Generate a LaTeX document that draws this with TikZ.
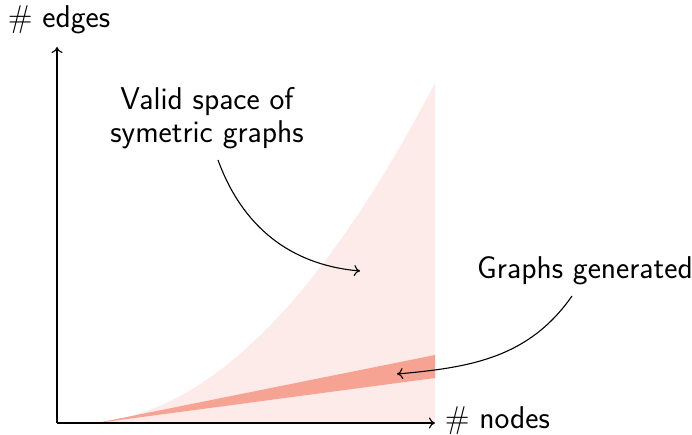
\documentclass[tikz,border=0pt]{standalone}
\usetikzlibrary{arrows.meta}
\definecolor{spacefill}{RGB}{252,235,232}
\definecolor{genfill}{RGB}{246,163,148}
\tikzset{
  axis/.style={line width=1.1pt, -{To[length=6pt,width=11pt]}},
  pointer/.style={line width=1.1pt, -{To[length=6pt,width=11pt]}},
  lbl/.style={font=\fontsize{31.5}{33}\selectfont\sffamily, inner sep=0pt},
}
\begin{document}
\begin{tikzpicture}[x=1pt,y=1pt]
\useasboundingbox (0,0) rectangle (692,435);
% region of valid symmetric graphs
\fill[spacefill] (97,12) -- plot[domain=97:435, samples=80] (\x, {12+340*((\x-80)/355)^2}) -- (435,12) -- cycle;
% band of generated graphs
\fill[genfill] (97,12) -- (435,80) -- (435,57) -- cycle;
% axes
\coordinate (O) at (57,12);
\coordinate (xend) at (435,12);
\coordinate (yend) at (57,388);
\draw[axis] (O) -- (xend);
\draw[axis] (O) -- (yend);
\node[lbl, anchor=base west] (xlab) at (445,6) {\textrm{\#} nodes};
\node[lbl, anchor=base west] (ylab) at (8,407) {\textrm{\#} edges};
% annotations
\node[lbl, align=center, anchor=base] (valid) at (207,292) {Valid space of\\symetric graphs};
\coordinate (validstart) at (218,275);
\coordinate (validtip) at (360,164);
\draw[pointer] (validstart) to[out=-70, in=175] (validtip);
\node[lbl, anchor=base] (gen) at (585,156) {Graphs generated};
\coordinate (genstart) at (572,139);
\coordinate (gentip) at (397,61);
\draw[pointer] (genstart) to[out=-125, in=5] (gentip);
\end{tikzpicture}
\end{document}
